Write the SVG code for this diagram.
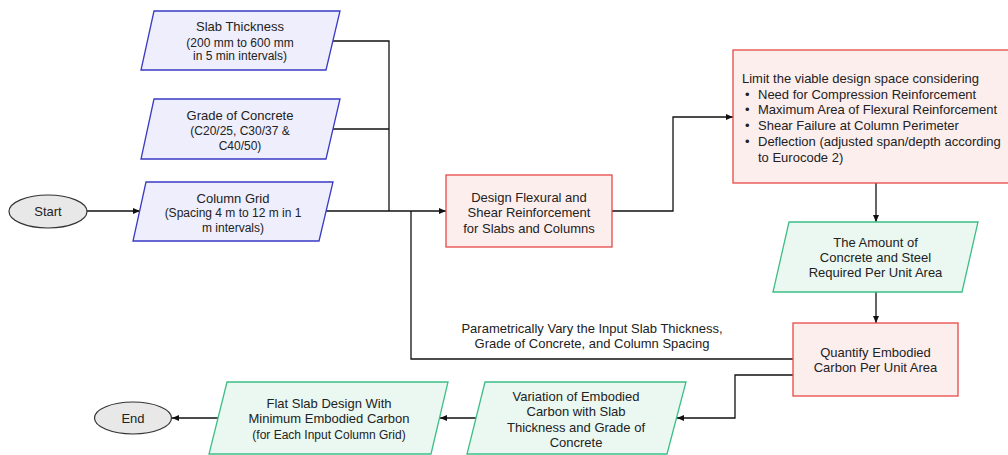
<svg xmlns="http://www.w3.org/2000/svg" width="1008" height="455" viewBox="0 0 1008 455">
<style>
text{font-family:"Liberation Sans",Arial,sans-serif;fill:#222;font-size:13px}
.s{font-size:12px}
.c{text-anchor:middle}
.blue{fill:#eeeefc;stroke:#3a3ac4;stroke-width:1.3}
.red{fill:#fdeeee;stroke:#e84848;stroke-width:1.3}
.green{fill:#eaf8f1;stroke:#3cbf86;stroke-width:1.3}
.term{fill:#e8e8e8;stroke:#333;stroke-width:1.2}
.ln{fill:none;stroke:#111;stroke-width:1.3}
</style>
<defs>
<marker id="ah" markerWidth="8" markerHeight="8" refX="7" refY="4" orient="auto" markerUnits="userSpaceOnUse">
<path d="M0,1 L7,4 L0,7 Z" fill="#111"/>
</marker>
</defs>
<rect width="1008" height="455" fill="#fff"/>
<g id="connectors">
<polyline class="ln" points="87,211 140,211" marker-end="url(#ah)"/>
<polyline class="ln" points="333,41 389,41 389,211"/>
<polyline class="ln" points="333,129 389,129"/>
<polyline class="ln" points="326,211 446,211" marker-end="url(#ah)"/>
<polyline class="ln" points="612,211 673,211 673,117 733,117" marker-end="url(#ah)"/>
<polyline class="ln" points="876,183 876,222" marker-end="url(#ah)"/>
<polyline class="ln" points="876,292 876,323" marker-end="url(#ah)"/>
<polyline class="ln" points="793,359 411,359 411,211"/>
<polyline class="ln" points="793,375 735,375 735,418 677,418" marker-end="url(#ah)"/>
<polyline class="ln" points="476,418 440,418" marker-end="url(#ah)"/>
<polyline class="ln" points="218,418 172,418" marker-end="url(#ah)"/>
<text class="c" x="592" y="332.5">Parametrically Vary the Input Slab Thickness,</text>
<text class="c" x="592" y="347.5">Grade of Concrete, and Column Spacing</text>
</g>
<g id="start">
<ellipse class="term" cx="48" cy="211.5" rx="39" ry="16.5"/>
<text class="c" x="48" y="216">Start</text>
</g>
<g id="slab">
<polygon class="blue" points="154,11 340,11 326,70 141,70"/>
<text class="c" x="240" y="31">Slab Thickness</text>
<text class="c s" x="240" y="47">(200 mm to 600 mm</text>
<text class="c s" x="240" y="60">in 5 min intervals)</text>
</g>
<g id="grade">
<polygon class="blue" points="154,99 340,99 326,159 141,159"/>
<text class="c" x="240" y="119.5">Grade of Concrete</text>
<text class="c s" x="240" y="135">(C20/25, C30/37 &amp;</text>
<text class="c s" x="240" y="150">C40/50)</text>
</g>
<g id="grid">
<polygon class="blue" points="146,182 333,182 319,241 133,241"/>
<text class="c" x="233" y="202.5">Column Grid</text>
<text class="c s" x="233" y="217">(Spacing 4 m to 12 m in 1</text>
<text class="c s" x="233" y="232">m intervals)</text>
</g>
<g id="design">
<rect class="red" x="446" y="175" width="166" height="72"/>
<text class="c" x="529" y="202">Design Flexural and</text>
<text class="c" x="529" y="217">Shear Reinforcement</text>
<text class="c" x="529" y="232.5">for Slabs and Columns</text>
</g>
<g id="limit">
<rect class="red" x="733" y="50" width="285" height="133"/>
<text x="742" y="82.5">Limit the viable design space considering</text>
<text x="745" y="98.5">•</text><text x="758" y="98.5">Need for Compression Reinforcement</text>
<text x="745" y="114">•</text><text x="758" y="114">Maximum Area of Flexural Reinforcement</text>
<text x="745" y="129.5">•</text><text x="758" y="129.5">Shear Failure at Column Perimeter</text>
<text x="745" y="145.5">•</text><text x="758" y="145.5">Deflection (adjusted span/depth according</text>
<text x="758" y="161.5">to Eurocode 2)</text>
</g>
<g id="amount">
<polygon class="green" points="789,222 978,222 962,292 773,292"/>
<text class="c" x="875.5" y="246.5">The Amount of</text>
<text class="c" x="875.5" y="261.5">Concrete and Steel</text>
<text class="c" x="875.5" y="276.5">Required Per Unit Area</text>
</g>
<g id="quantify">
<rect class="red" x="793" y="323" width="165" height="73"/>
<text class="c" x="875.5" y="356.5">Quantify Embodied</text>
<text class="c" x="875.5" y="371.5">Carbon Per Unit Area</text>
</g>
<g id="variation">
<polygon class="green" points="485,382 686,382 667,454 467,454"/>
<text class="c" x="576" y="400.5">Variation of Embodied</text>
<text class="c" x="576" y="415.5">Carbon with Slab</text>
<text class="c" x="576" y="431.5">Thickness and Grade of</text>
<text class="c" x="576" y="446.5">Concrete</text>
</g>
<g id="flat">
<polygon class="green" points="227,382 448,382 431,454 209,454"/>
<text class="c" x="329" y="407.5">Flat Slab Design With</text>
<text class="c" x="329" y="422.5">Minimum Embodied Carbon</text>
<text class="c s" x="329" y="439">(for Each Input Column Grid)</text>
</g>
<g id="end">
<ellipse class="term" cx="133" cy="418" rx="38.5" ry="16"/>
<text class="c" x="133" y="422.5">End</text>
</g>
</svg>
